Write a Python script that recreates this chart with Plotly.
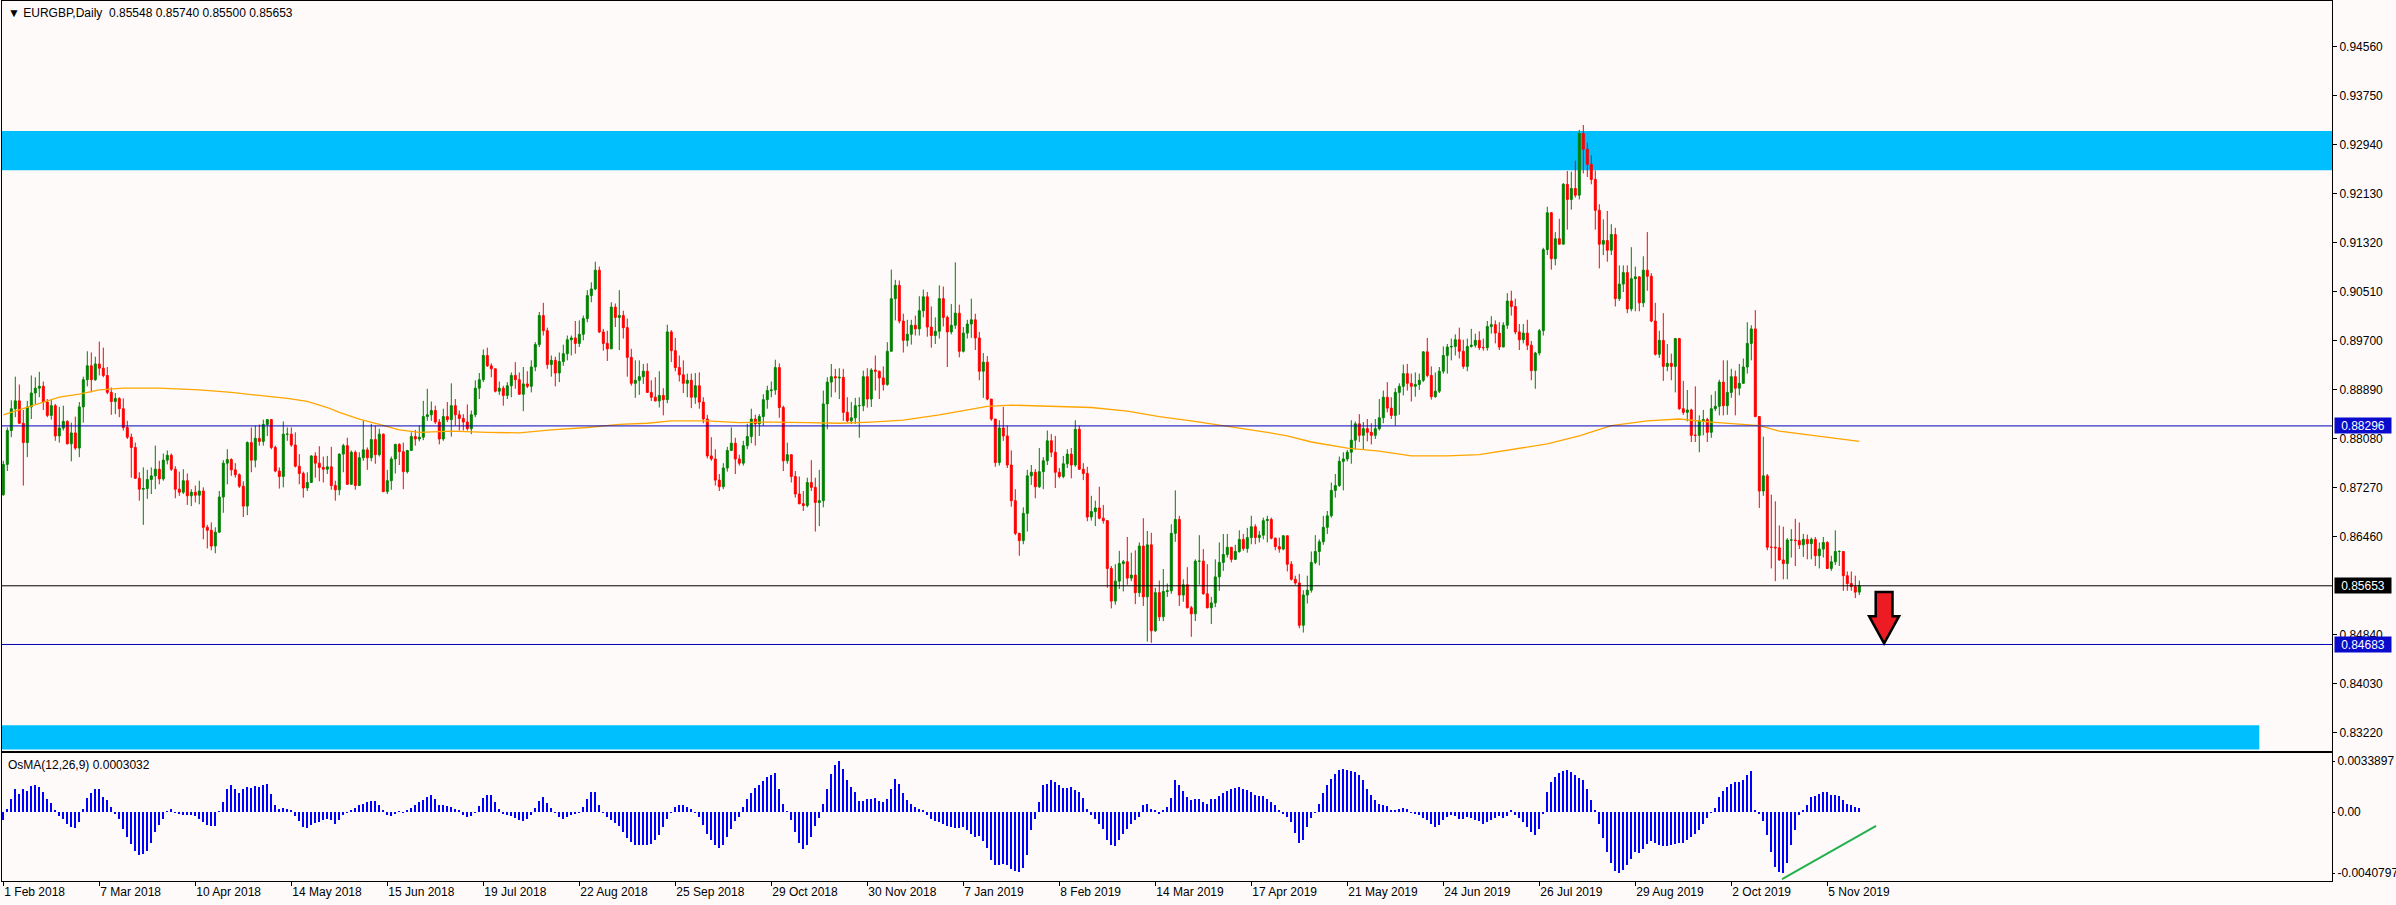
import plotly.graph_objects as go

# ---------------- data ----------------
symbol_title = "\u25bc EURGBP,Daily \u00a00.85548 0.85740 0.85500 0.85653"
osma_title = "OsMA(12,26,9) 0.0003032"

first_open = 0.8716

closes = [
    0.8766, 0.8822, 0.8858, 0.8871, 0.8834, 0.8802, 0.8861, 0.8884, 0.8892, 0.8895,
    0.8869, 0.8847, 0.8863, 0.8813, 0.8826, 0.8837, 0.8800, 0.8818, 0.8793, 0.8861,
    0.8906, 0.8929, 0.8906, 0.8932, 0.8925, 0.8913, 0.8885, 0.8870, 0.8875, 0.8858,
    0.8827, 0.8811, 0.8794, 0.8743, 0.8725, 0.8726, 0.8741, 0.8747, 0.8758, 0.8742,
    0.8773, 0.8781, 0.8758, 0.8725, 0.8720, 0.8739, 0.8714, 0.8720, 0.8715, 0.8722,
    0.8662, 0.8657, 0.8631, 0.8654, 0.8712, 0.8768, 0.8774, 0.8757, 0.8749, 0.8730,
    0.8697, 0.8802, 0.8773, 0.8809, 0.8804, 0.8832, 0.8840, 0.8794, 0.8755, 0.8746,
    0.8816, 0.8816, 0.8798, 0.8763, 0.8751, 0.8727, 0.8736, 0.8780, 0.8768, 0.8761,
    0.8758, 0.8762, 0.8731, 0.8724, 0.8783, 0.8797, 0.8733, 0.8786, 0.8731, 0.8777,
    0.8790, 0.8777, 0.8807, 0.8782, 0.8816, 0.8721, 0.8739, 0.8775, 0.8799, 0.8787,
    0.8754, 0.8789, 0.8812, 0.8808, 0.8811, 0.8845, 0.8848, 0.8855, 0.8836, 0.8808,
    0.8845, 0.8840, 0.8863, 0.8848, 0.8842, 0.8836, 0.8825, 0.8848, 0.8892, 0.8906,
    0.8946, 0.8929, 0.8924, 0.8887, 0.8892, 0.8880, 0.8896, 0.8913, 0.8906, 0.8882,
    0.8899, 0.8895, 0.8927, 0.8964, 0.9012, 0.8987, 0.8931, 0.8938, 0.8917, 0.8936,
    0.8949, 0.8972, 0.8975, 0.8966, 0.8981, 0.9007, 0.9045, 0.9056, 0.9087, 0.8985,
    0.8966, 0.8957, 0.9026, 0.9009, 0.9012, 0.8992, 0.8943, 0.8900, 0.8905, 0.8911,
    0.8920, 0.8885, 0.8877, 0.8871, 0.8880, 0.8873, 0.8985, 0.8954, 0.8926, 0.8914,
    0.8900, 0.8905, 0.8877, 0.8896, 0.8869, 0.8841, 0.8780, 0.8775, 0.8740, 0.8729,
    0.8760, 0.8789, 0.8801, 0.8775, 0.8768, 0.8797, 0.8812, 0.8841, 0.8833, 0.8845,
    0.8873, 0.8888, 0.8889, 0.8926, 0.8860, 0.8772, 0.8782, 0.8746, 0.8717, 0.8701,
    0.8698, 0.8736, 0.8728, 0.8703, 0.8706, 0.8866, 0.8902, 0.8911, 0.8909, 0.8910,
    0.8852, 0.8838, 0.8843, 0.8863, 0.8863, 0.8911, 0.8874, 0.8922, 0.8920, 0.8909,
    0.8898, 0.8953, 0.9040, 0.9062, 0.9003, 0.8971, 0.8981, 0.8996, 0.8990, 0.9020,
    0.9043, 0.8993, 0.8979, 0.8986, 0.9040, 0.9009, 0.8985, 0.8996, 0.9016, 0.8953,
    0.8983, 0.8998, 0.9005, 0.8975, 0.8920, 0.8935, 0.8874, 0.8841, 0.8769, 0.8826,
    0.8813, 0.8765, 0.8706, 0.8652, 0.8640, 0.8685, 0.8747, 0.8753, 0.8729, 0.8754,
    0.8772, 0.8805, 0.8786, 0.8753, 0.8746, 0.8767, 0.8783, 0.8765, 0.8824, 0.8758,
    0.8751, 0.8679, 0.8688, 0.8694, 0.8677, 0.8673, 0.8594, 0.8540, 0.8573, 0.8602,
    0.8605, 0.8578, 0.8583, 0.8554, 0.8631, 0.8547, 0.8633, 0.8491, 0.8554, 0.8514,
    0.8556, 0.8557, 0.8652, 0.8675, 0.8550, 0.8567, 0.8529, 0.8519, 0.8606, 0.8606,
    0.8552, 0.8529, 0.8537, 0.8580, 0.8604, 0.8617, 0.8629, 0.8609, 0.8622, 0.8642,
    0.8627, 0.8645, 0.8663, 0.8645, 0.8649, 0.8673, 0.8675, 0.8644, 0.8630, 0.8626,
    0.8648, 0.8601, 0.8576, 0.8570, 0.8500, 0.8550, 0.8558, 0.8604, 0.8622, 0.8638,
    0.8662, 0.8681, 0.8723, 0.8731, 0.8771, 0.8775, 0.8786, 0.8806, 0.8833, 0.8814,
    0.8825, 0.8819, 0.8814, 0.8825, 0.8843, 0.8877, 0.8859, 0.8847, 0.8885, 0.8895,
    0.8916, 0.8900, 0.8895, 0.8898, 0.8905, 0.8952, 0.8913, 0.8878, 0.8887, 0.8920,
    0.8946, 0.8960, 0.8961, 0.8972, 0.8953, 0.8928, 0.8961, 0.8963, 0.8971, 0.8959,
    0.8959, 0.8994, 0.8997, 0.8983, 0.8960, 0.8996, 0.9036, 0.9027, 0.8985, 0.8972,
    0.8983, 0.8963, 0.8921, 0.8950, 0.8987, 0.9121, 0.9182, 0.9106, 0.9139, 0.9130,
    0.9229, 0.9204, 0.9222, 0.9211, 0.9313, 0.9287, 0.9262, 0.9237, 0.9186, 0.9130,
    0.9136, 0.9120, 0.9146, 0.9040, 0.9064, 0.9083, 0.9023, 0.9073, 0.9076, 0.9033,
    0.9087, 0.9077, 0.9003, 0.8948, 0.8971, 0.8928, 0.8933, 0.8928, 0.8974, 0.8858,
    0.8852, 0.8856, 0.8814, 0.8814, 0.8838, 0.8840, 0.8819, 0.8858, 0.8862, 0.8902,
    0.8863, 0.8885, 0.8911, 0.8892, 0.8900, 0.8927, 0.8966, 0.8990, 0.8845, 0.8722,
    0.8747, 0.8629, 0.8629, 0.8628, 0.8608, 0.8602, 0.8641, 0.8641, 0.8640, 0.8633,
    0.8642, 0.8635, 0.8642, 0.8615, 0.8626, 0.8637, 0.8594, 0.8605, 0.8622, 0.8622,
    0.8582, 0.8569, 0.8564, 0.85548, 0.85653,
]

highs = [
    0.8772, 0.8827, 0.8872, 0.8911, 0.8898, 0.8856, 0.8871, 0.8913, 0.8910, 0.8919,
    0.8903, 0.8874, 0.8873, 0.8866, 0.8861, 0.8863, 0.8839, 0.8835, 0.8845, 0.8869,
    0.8911, 0.8953, 0.8951, 0.8944, 0.8969, 0.8959, 0.8927, 0.8893, 0.8884, 0.8877,
    0.8875, 0.8838, 0.8817, 0.8802, 0.8753, 0.8761, 0.8757, 0.8761, 0.8797, 0.8772,
    0.8784, 0.8789, 0.8784, 0.8763, 0.8754, 0.8758, 0.8751, 0.8725, 0.8731, 0.8739,
    0.8728, 0.8666, 0.8670, 0.8662, 0.8722, 0.8773, 0.8791, 0.8776, 0.8768, 0.8751,
    0.8738, 0.8804, 0.8827, 0.8830, 0.8832, 0.8840, 0.8841, 0.8840, 0.8797, 0.8761,
    0.8837, 0.8827, 0.8827, 0.8819, 0.8783, 0.8754, 0.8753, 0.8781, 0.8786, 0.8796,
    0.8779, 0.8780, 0.8795, 0.8739, 0.8784, 0.8800, 0.8810, 0.8789, 0.8789, 0.8786,
    0.8838, 0.8794, 0.8833, 0.8830, 0.8825, 0.8817, 0.8757, 0.8779, 0.8800, 0.8801,
    0.8802, 0.8790, 0.8819, 0.8823, 0.8830, 0.8871, 0.8891, 0.8870, 0.8863, 0.8841,
    0.8858, 0.8869, 0.8900, 0.8874, 0.8855, 0.8849, 0.8865, 0.8855, 0.8905, 0.8917,
    0.8956, 0.8959, 0.8933, 0.8922, 0.8903, 0.8896, 0.8902, 0.8918, 0.8935, 0.8918,
    0.8927, 0.8920, 0.8938, 0.8968, 0.9018, 0.9033, 0.8992, 0.8946, 0.8944, 0.8951,
    0.8964, 0.8979, 0.8979, 0.9003, 0.9004, 0.9012, 0.9054, 0.9067, 0.9101, 0.9093,
    0.8990, 0.8987, 0.9034, 0.9032, 0.9054, 0.9020, 0.9007, 0.8957, 0.8938, 0.8938,
    0.8932, 0.8933, 0.8905, 0.8910, 0.8920, 0.8892, 0.8997, 0.8988, 0.8975, 0.8946,
    0.8938, 0.8916, 0.8916, 0.8917, 0.8918, 0.8877, 0.8848, 0.8811, 0.8791, 0.8750,
    0.8768, 0.8795, 0.8827, 0.8810, 0.8782, 0.8805, 0.8833, 0.8858, 0.8848, 0.8849,
    0.8882, 0.8896, 0.8903, 0.8939, 0.8933, 0.8863, 0.8802, 0.8772, 0.8755, 0.8746,
    0.8722, 0.8744, 0.8773, 0.8744, 0.8757, 0.8888, 0.8910, 0.8932, 0.8924, 0.8925,
    0.8924, 0.8877, 0.8869, 0.8876, 0.8877, 0.8921, 0.8925, 0.8925, 0.8946, 0.8921,
    0.8928, 0.8968, 0.9088, 0.9071, 0.9070, 0.9015, 0.9005, 0.9005, 0.9012, 0.9044,
    0.9055, 0.9051, 0.9027, 0.9009, 0.9062, 0.9060, 0.9012, 0.9031, 0.9100, 0.9030,
    0.8993, 0.9005, 0.9040, 0.9015, 0.8985, 0.8950, 0.8945, 0.8872, 0.8841, 0.8839,
    0.8861, 0.8830, 0.8789, 0.8725, 0.8653, 0.8695, 0.8757, 0.8765, 0.8758, 0.8793,
    0.8778, 0.8822, 0.8816, 0.8813, 0.8760, 0.8780, 0.8791, 0.8793, 0.8839, 0.8830,
    0.8768, 0.8762, 0.8714, 0.8706, 0.8729, 0.8699, 0.8674, 0.8598, 0.8601, 0.8623,
    0.8608, 0.8646, 0.8620, 0.8624, 0.8637, 0.8677, 0.8656, 0.8653, 0.8562, 0.8574,
    0.8593, 0.8569, 0.8667, 0.8723, 0.8681, 0.8576, 0.8596, 0.8532, 0.8609, 0.8649,
    0.8626, 0.8601, 0.8547, 0.8609, 0.8637, 0.8651, 0.8651, 0.8629, 0.8633, 0.8657,
    0.8651, 0.8661, 0.8681, 0.8667, 0.8656, 0.8678, 0.8681, 0.8678, 0.8645, 0.8645,
    0.8649, 0.8645, 0.8606, 0.8582, 0.8585, 0.8558, 0.8582, 0.8622, 0.8649, 0.8642,
    0.8681, 0.8689, 0.8736, 0.8750, 0.8779, 0.8786, 0.8790, 0.8839, 0.8837, 0.8849,
    0.8836, 0.8841, 0.8834, 0.8841, 0.8874, 0.8888, 0.8902, 0.8877, 0.8892, 0.8900,
    0.8931, 0.8932, 0.8916, 0.8918, 0.8916, 0.8953, 0.8975, 0.8928, 0.8918, 0.8927,
    0.8961, 0.8965, 0.8974, 0.8981, 0.8992, 0.8972, 0.8974, 0.8990, 0.8982, 0.8986,
    0.8974, 0.9003, 0.9011, 0.9004, 0.9001, 0.9001, 0.9049, 0.9053, 0.9040, 0.8998,
    0.8998, 0.9005, 0.8970, 0.8952, 0.8990, 0.9124, 0.9192, 0.9183, 0.9150, 0.9172,
    0.9231, 0.9251, 0.9250, 0.9268, 0.9319, 0.9327, 0.9298, 0.9277, 0.9252, 0.9196,
    0.9171, 0.9185, 0.9163, 0.9157, 0.9095, 0.9095, 0.9095, 0.9125, 0.9093, 0.9077,
    0.9110, 0.9150, 0.9082, 0.9033, 0.8987, 0.9016, 0.8965, 0.8949, 0.8975, 0.8975,
    0.8904, 0.8889, 0.8858, 0.8895, 0.8847, 0.8856, 0.8843, 0.8881, 0.8887, 0.8906,
    0.8938, 0.8938, 0.8924, 0.8921, 0.8932, 0.8941, 0.9001, 0.8996, 0.9021, 0.8844,
    0.8812, 0.8750, 0.8716, 0.8705, 0.8665, 0.8663, 0.8644, 0.8659, 0.8676, 0.8670,
    0.8651, 0.8650, 0.8645, 0.8646, 0.8637, 0.8646, 0.8639, 0.8615, 0.8657, 0.8624,
    0.8620, 0.8589, 0.8589, 0.8582, 0.85740,
]

lows = [
    0.8714, 0.8755, 0.8811, 0.8844, 0.8833, 0.8731, 0.8778, 0.8841, 0.8866, 0.8877,
    0.8856, 0.8844, 0.8840, 0.8805, 0.8802, 0.8822, 0.8799, 0.8771, 0.8790, 0.8778,
    0.8835, 0.8895, 0.8885, 0.8904, 0.8913, 0.8910, 0.8882, 0.8848, 0.8849, 0.8844,
    0.8822, 0.8808, 0.8744, 0.8742, 0.8706, 0.8666, 0.8709, 0.8717, 0.8725, 0.8733,
    0.8739, 0.8766, 0.8755, 0.8710, 0.8714, 0.8717, 0.8699, 0.8697, 0.8703, 0.8700,
    0.8642, 0.8627, 0.8624, 0.8619, 0.8653, 0.8686, 0.8733, 0.8747, 0.8744, 0.8727,
    0.8679, 0.8682, 0.8753, 0.8761, 0.8797, 0.8797, 0.8813, 0.8791, 0.8753, 0.8726,
    0.8728, 0.8805, 0.8795, 0.8761, 0.8733, 0.8711, 0.8722, 0.8736, 0.8744, 0.8738,
    0.8736, 0.8750, 0.8724, 0.8706, 0.8715, 0.8753, 0.8732, 0.8733, 0.8724, 0.8739,
    0.8772, 0.8757, 0.8771, 0.8767, 0.8779, 0.8720, 0.8717, 0.8724, 0.8751, 0.8765,
    0.8725, 0.8751, 0.8789, 0.8797, 0.8804, 0.8806, 0.8838, 0.8838, 0.8833, 0.8799,
    0.8805, 0.8836, 0.8812, 0.8830, 0.8822, 0.8822, 0.8822, 0.8816, 0.8844, 0.8874,
    0.8902, 0.8927, 0.8910, 0.8885, 0.8881, 0.8863, 0.8874, 0.8877, 0.8891, 0.8881,
    0.8854, 0.8892, 0.8885, 0.8920, 0.8960, 0.8979, 0.8924, 0.8911, 0.8895, 0.8902,
    0.8929, 0.8938, 0.8946, 0.8949, 0.8960, 0.8971, 0.9001, 0.9034, 0.9054, 0.8983,
    0.8954, 0.8937, 0.8966, 0.8993, 0.8955, 0.8974, 0.8911, 0.8896, 0.8876, 0.8881,
    0.8899, 0.8885, 0.8871, 0.8870, 0.8860, 0.8847, 0.8867, 0.8935, 0.8920, 0.8903,
    0.8884, 0.8877, 0.8859, 0.8866, 0.8858, 0.8834, 0.8776, 0.8772, 0.8731, 0.8722,
    0.8725, 0.8754, 0.8793, 0.8750, 0.8764, 0.8764, 0.8791, 0.8801, 0.8797, 0.8813,
    0.8830, 0.8858, 0.8877, 0.8881, 0.8843, 0.8755, 0.8767, 0.8736, 0.8711, 0.8700,
    0.8689, 0.8695, 0.8722, 0.8655, 0.8664, 0.8695, 0.8824, 0.8877, 0.8885, 0.8874,
    0.8838, 0.8836, 0.8833, 0.8833, 0.8810, 0.8854, 0.8860, 0.8861, 0.8888, 0.8874,
    0.8888, 0.8896, 0.8959, 0.9004, 0.8999, 0.8951, 0.8961, 0.8964, 0.8979, 0.8979,
    0.9009, 0.8977, 0.8959, 0.8965, 0.8974, 0.8994, 0.8927, 0.8981, 0.8990, 0.8943,
    0.8951, 0.8974, 0.8975, 0.8955, 0.8905, 0.8876, 0.8872, 0.8838, 0.8762, 0.8764,
    0.8805, 0.8760, 0.8696, 0.8649, 0.8615, 0.8634, 0.8655, 0.8732, 0.8710, 0.8727,
    0.8725, 0.8765, 0.8778, 0.8727, 0.8743, 0.8743, 0.8760, 0.8743, 0.8762, 0.8757,
    0.8740, 0.8672, 0.8673, 0.8664, 0.8675, 0.8668, 0.8562, 0.8528, 0.8534, 0.8560,
    0.8556, 0.8567, 0.8573, 0.8535, 0.8547, 0.8532, 0.8473, 0.8471, 0.8489, 0.8507,
    0.8507, 0.8547, 0.8552, 0.8638, 0.8532, 0.8539, 0.8528, 0.8481, 0.8507, 0.8567,
    0.8551, 0.8528, 0.8502, 0.8530, 0.8557, 0.8590, 0.8612, 0.8604, 0.8609, 0.8620,
    0.8623, 0.8620, 0.8634, 0.8634, 0.8637, 0.8642, 0.8637, 0.8642, 0.8624, 0.8620,
    0.8624, 0.8589, 0.8574, 0.8567, 0.8495, 0.8488, 0.8536, 0.8554, 0.8601, 0.8599,
    0.8633, 0.8651, 0.8678, 0.8711, 0.8729, 0.8723, 0.8771, 0.8767, 0.8790, 0.8803,
    0.8791, 0.8804, 0.8799, 0.8808, 0.8822, 0.8834, 0.8852, 0.8841, 0.8830, 0.8848,
    0.8880, 0.8888, 0.8870, 0.8878, 0.8889, 0.8902, 0.8910, 0.8873, 0.8876, 0.8884,
    0.8916, 0.8916, 0.8938, 0.8946, 0.8941, 0.8924, 0.8920, 0.8959, 0.8959, 0.8955,
    0.8954, 0.8954, 0.8982, 0.8966, 0.8955, 0.8963, 0.8990, 0.9012, 0.8981, 0.8955,
    0.8966, 0.8955, 0.8905, 0.8891, 0.8946, 0.8979, 0.9112, 0.9088, 0.9095, 0.9130,
    0.9130, 0.9154, 0.9187, 0.9207, 0.9204, 0.9247, 0.9241, 0.9229, 0.9154, 0.9090,
    0.9112, 0.9101, 0.9112, 0.9027, 0.9036, 0.9051, 0.9016, 0.9019, 0.9019, 0.9019,
    0.9026, 0.9053, 0.9001, 0.8946, 0.8942, 0.8904, 0.8920, 0.8905, 0.8885, 0.8856,
    0.8848, 0.8837, 0.8803, 0.8803, 0.8786, 0.8814, 0.8803, 0.8810, 0.8854, 0.8847,
    0.8847, 0.8848, 0.8876, 0.8847, 0.8880, 0.8906, 0.8916, 0.8938, 0.8844, 0.8694,
    0.8714, 0.8624, 0.8594, 0.8573, 0.8607, 0.8576, 0.8576, 0.8612, 0.8598, 0.8626,
    0.8613, 0.8609, 0.8609, 0.8598, 0.8594, 0.8612, 0.8593, 0.8590, 0.8600, 0.8598,
    0.8557, 0.8557, 0.8557, 0.8545, 0.85500,
]

# OsMA(12,26,9) histogram, in units of 1e-5
osma_e5 = [
    -56, 22, 89, 155, 122, 151, 138, 171, 178, 169,
    133, 89, 62, 11, -27, -49, -78, -100, -107, -67,
    22, 93, 129, 151, 155, 100, 78, 33, -11, -44,
    -111, -167, -211, -262, -284, -282, -260, -204, -133, -89,
    -44, 5, 18, -4, -13, -22, -18, -22, -29, -44,
    -67, -89, -93, -93, 5, 67, 155, 178, 151, 127,
    155, 167, 160, 173, 167, 182, 189, 122, 44, 22,
    27, 22, 11, -27, -62, -100, -107, -84, -71, -67,
    -56, -44, -56, -78, -56, -22, -3, 16, 29, 44,
    56, 67, 71, 71, 44, 11, -18, -27, -9, 4,
    -2, 11, 27, 49, 67, 82, 100, 111, 84, 49,
    44, 40, 33, 22, 11, -22, -33, -27, -4, 40,
    93, 115, 115, 67, 22, -9, -20, -27, -40, -51,
    -62, -49, -22, 27, 71, 98, 62, 27, -4, -33,
    -44, -33, -22, -11, -2, 33, 89, 133, 133, 44,
    -4, -33, -56, -71, -95, -133, -173, -200, -218, -222,
    -218, -222, -211, -189, -151, -100, -44, -4, 33, 49,
    44, 33, 18, -4, -33, -89, -144, -189, -218, -240,
    -222, -167, -111, -62, -33, 33, 89, 129, 160, 182,
    209, 233, 244, 262, 155, 56, 4, -56, -133, -204,
    -244, -222, -167, -93, -40, 56, 155, 255, 311, 339,
    284, 211, 167, 133, 75, 71, 84, 84, 93, 75,
    67, 89, 155, 218, 189, 129, 78, 56, 33, 22,
    11, -22, -44, -58, -67, -82, -93, -100, -107, -107,
    -100, -122, -147, -167, -160, -195, -240, -322, -355, -355,
    -346, -355, -377, -391, -398, -373, -289, -122, -44, 67,
    178, 189, 211, 200, 182, 162, 160, 164, 149, 133,
    93, 22, -22, -49, -78, -111, -189, -222, -226, -189,
    -149, -111, -78, -56, -33, 44, 56, 18, 11, -11,
    11, 33, 93, 211, 178, 138, 100, 78, 89, 89,
    67, 56, 89, 89, 107, 129, 142, 151, 160, 167,
    155, 144, 133, 115, 107, 104, 84, 67, 44, 11,
    -11, -33, -67, -138, -204, -189, -100, -40, -4, 56,
    129, 178, 222, 251, 278, 289, 282, 275, 266, 249,
    215, 155, 111, 78, 56, 44, 40, 16, 16, 22,
    27, 18, -2, -11, -22, -38, -56, -78, -100, -84,
    -51, -33, -22, -29, -44, -44, -36, -40, -53, -62,
    -78, -67, -56, -40, -27, -40, -27, 11, -18, -40,
    -67, -100, -133, -155, -111, -11, 133, 200, 233, 262,
    275, 278, 266, 244, 226, 211, 155, 78, 11, -78,
    -173, -266, -337, -393, -405, -384, -351, -315, -266, -273,
    -249, -211, -191, -204, -218, -224, -224, -220, -213, -204,
    -204, -189, -167, -144, -120, -78, -40, -2, 27, 100,
    140, 167, 189, 200, 200, 211, 249, 273, 11, -11,
    -62, -155, -266, -366, -400, -408, -337, -222, -122, -22,
    11, 49, 100, 107, 118, 133, 133, 115, 115, 104,
    82, 56, 44, 33, 30,
]

# moving average (orange) read at sample bars
ma_bars = [0, 4, 9, 14, 19, 24, 30, 39, 49, 57, 64, 71, 76, 81, 84, 89, 94, 99, 104, 112,
           121, 129, 137, 146, 154, 161, 167, 176, 184, 192, 201, 209, 217, 225, 234, 241,
           246, 252, 264, 272, 281, 289, 297, 304, 310, 316, 321, 327, 336, 344, 352, 361,
           369, 377, 386, 394, 402, 411, 419, 427, 436, 439, 444, 452, 459, 464]
ma_vals = [0.8848, 0.8856, 0.8867, 0.8877, 0.8882, 0.8889, 0.8892, 0.8892, 0.8889, 0.8885,
           0.8880, 0.8875, 0.8870, 0.8860, 0.8852, 0.8841, 0.8832, 0.8823, 0.8819, 0.8821,
           0.8819, 0.8818, 0.8823, 0.8827, 0.8832, 0.8834, 0.8838, 0.8838, 0.8835, 0.8836,
           0.8835, 0.8834, 0.8836, 0.8839, 0.8848, 0.8856, 0.8862, 0.8864, 0.8862, 0.8860,
           0.8854, 0.8845, 0.8838, 0.8831, 0.8826, 0.8819, 0.8813, 0.8803, 0.8793, 0.8788,
           0.8780, 0.8780, 0.8782, 0.8790, 0.8800, 0.8813, 0.8830, 0.8838, 0.8841, 0.8836,
           0.8832, 0.8830, 0.8821, 0.8814, 0.8809, 0.8804]

date_labels = ["1 Feb 2018", "7 Mar 2018", "10 Apr 2018", "14 May 2018", "15 Jun 2018",
               "19 Jul 2018", "22 Aug 2018", "25 Sep 2018", "29 Oct 2018", "30 Nov 2018",
               "7 Jan 2019", "8 Feb 2019", "14 Mar 2019", "17 Apr 2019", "21 May 2019",
               "24 Jun 2019", "26 Jul 2019", "29 Aug 2019", "2 Oct 2019", "5 Nov 2019"]
bars_per_label = 24

price_ticks = [0.94560, 0.93750, 0.92940, 0.92130, 0.91320, 0.90510, 0.89700, 0.88890,
               0.88080, 0.87270, 0.86460, 0.84840, 0.84030, 0.83220]
osma_ticks = [0.0033897, 0.0, -0.0040797]
osma_tick_text = ["0.0033897", "0.00", "-0.0040797"]

# horizontal price levels: (price, colour of line, colour of label box)
levels = [(0.88296, "#0000B4", "#0A0ACD"), (0.85653, "#000000", "#000000"),
          (0.84683, "#0000B4", "#0A0ACD")]
# zones: (price low, price high, last bar or None for full width)
zones = [(0.92523, 0.93169, None), (0.82948, 0.83346, 564)]
# trend line in OsMA window
osma_trend_bars = [444.7, 468.2]
osma_trend_vals = [-0.00447, -0.00093]

# ---------------- figure ----------------
BG = "#FFFAFA"
FONT = "Liberation Sans"
n = len(closes)
assert len(highs) == n and len(lows) == n and len(osma_e5) == n, (n, len(highs), len(lows), len(osma_e5))
idx = list(range(n))
opens = [first_open] + closes[:-1]
hi = [max(h, o, c) for h, o, c in zip(highs, opens, closes)]
lo = [min(l, o, c) for l, o, c in zip(lows, opens, closes)]
osma = [v * 1e-5 for v in osma_e5]

X0, X1 = -0.325, 582.175
Y_MAIN = [0.82922, 0.95320]
Y_OSMA = [-0.004602, 0.003935]

fig = go.Figure()
fig.add_trace(go.Candlestick(
    x=idx, open=opens, high=hi, low=lo, close=closes,
    increasing=dict(line=dict(color="#008000", width=1), fillcolor="#008000"),
    decreasing=dict(line=dict(color="#FF0000", width=1), fillcolor="#FF0000"),
    whiskerwidth=0, hoverinfo="skip", xaxis="x", yaxis="y"))
fig.add_trace(go.Scatter(x=ma_bars, y=ma_vals, mode="lines",
                         line=dict(color="#FFA500", width=1.3),
                         hoverinfo="skip", xaxis="x", yaxis="y"))
fig.add_trace(go.Bar(x=idx, y=osma, width=0.5, marker=dict(color="#0000FF", line=dict(width=0)),
                     hoverinfo="skip", xaxis="x2", yaxis="y2"))
fig.add_trace(go.Scatter(x=osma_trend_bars, y=osma_trend_vals, mode="lines",
                         line=dict(color="#22B14C", width=2),
                         hoverinfo="skip", xaxis="x2", yaxis="y2"))

shapes = []
for lo_p, hi_p, last_bar in zones:
    if last_bar is None:
        shapes.append(dict(type="rect", xref="paper", x0=0, x1=1, yref="y", y0=lo_p, y1=hi_p,
                           fillcolor="#00BFFF", line=dict(width=0), layer="below"))
    else:
        shapes.append(dict(type="rect", xref="x", x0=X0 - 5, x1=last_bar, yref="y", y0=lo_p, y1=hi_p,
                           fillcolor="#00BFFF", line=dict(width=0), layer="below"))
for price, lc, _ in levels:
    shapes.append(dict(type="line", xref="paper", x0=0, x1=1, yref="y", y0=price, y1=price,
                       line=dict(color=lc, width=1), layer="above"))

# red down arrow (drawn in data coordinates)
ac, atop, aneck, atip, sh, hd = 470.2, 0.8555, 0.8515, 0.8470, 2.1, 3.75
arrow_path = (f"M {ac-sh},{atop} L {ac+sh},{atop} L {ac+sh},{aneck} L {ac+hd},{aneck} "
              f"L {ac},{atip} L {ac-hd},{aneck} L {ac-sh},{aneck} Z")
shapes.append(dict(type="path", path=arrow_path, xref="x", yref="y",
                   fillcolor="#ED1C24", line=dict(color="black", width=2.5), layer="above"))

PX_L, PX_R, PX_T, PX_B = 2, 2332, 1, 881


def px_to_paper(px, py):
    return (px - PX_L) / (PX_R - PX_L), (PX_B - py) / (PX_B - PX_T)


annotations = []
tx, ty = px_to_paper(6, 13)
annotations.append(dict(text=symbol_title, xref="paper", yref="paper", x=tx, y=ty,
                        xanchor="left", yanchor="middle", showarrow=False,
                        font=dict(family=FONT, size=12, color="black")))
ox, oy = px_to_paper(6, 765)
annotations.append(dict(text=osma_title, xref="paper", yref="paper", x=ox, y=oy,
                        xanchor="left", yanchor="middle", showarrow=False,
                        font=dict(family=FONT, size=12, color="black")))
for price, _, bc in levels:
    annotations.append(dict(text=f"{price:.5f}", xref="paper", yref="y", x=1, y=price,
                            xanchor="left", yanchor="middle", xshift=2, showarrow=False,
                            bgcolor=bc, borderpad=1, width=54, height=13, align="center",
                            font=dict(family=FONT, size=12, color="white")))

main_dom = [(PX_B - 751) / (PX_B - PX_T), 1.0]
osma_dom = [0.0, (PX_B - 753) / (PX_B - PX_T)]

axis_common = dict(showgrid=False, zeroline=False, showline=True, mirror=True,
                   linecolor="black", linewidth=1, fixedrange=True)

fig.update_layout(
    width=2396, height=905, autosize=False,
    margin=dict(l=PX_L, r=2396 - PX_R, t=PX_T, b=905 - PX_B, pad=0),
    paper_bgcolor=BG, plot_bgcolor=BG, showlegend=False, bargap=0,
    font=dict(family=FONT, size=12, color="black"),
    xaxis=dict(domain=[0, 1], anchor="y", range=[X0, X1], showticklabels=False, ticks="",
               rangeslider=dict(visible=False), **axis_common),
    xaxis2=dict(domain=[0, 1], anchor="y2", range=[X0, X1], matches="x",
                tickmode="array", tickvals=[i * bars_per_label for i in range(len(date_labels))],
                ticktext=date_labels, ticks="outside", ticklen=4, tickcolor="black",
                ticklabelposition="outside right", automargin=False,
                tickfont=dict(family=FONT, size=12, color="black"),
                rangeslider=dict(visible=False), **axis_common),
    yaxis=dict(domain=main_dom, anchor="x", side="right", range=Y_MAIN,
               tickmode="array", tickvals=price_ticks, ticktext=[f"{v:.5f}" for v in price_ticks],
               ticks="outside", ticklen=4, tickcolor="black", automargin=False,
               tickfont=dict(family=FONT, size=12, color="black"), **axis_common),
    yaxis2=dict(domain=osma_dom, anchor="x2", side="right", range=Y_OSMA,
                tickmode="array", tickvals=osma_ticks, ticktext=osma_tick_text,
                ticks="outside", ticklen=2, tickcolor="black", automargin=False,
                tickfont=dict(family=FONT, size=12, color="black"), **axis_common),
    shapes=shapes, annotations=annotations,
)

fig.write_html("out.html", config={"displayModeBar": False},
               post_script="document.body.style.margin='0';document.body.style.background='#FFFAFA';")
